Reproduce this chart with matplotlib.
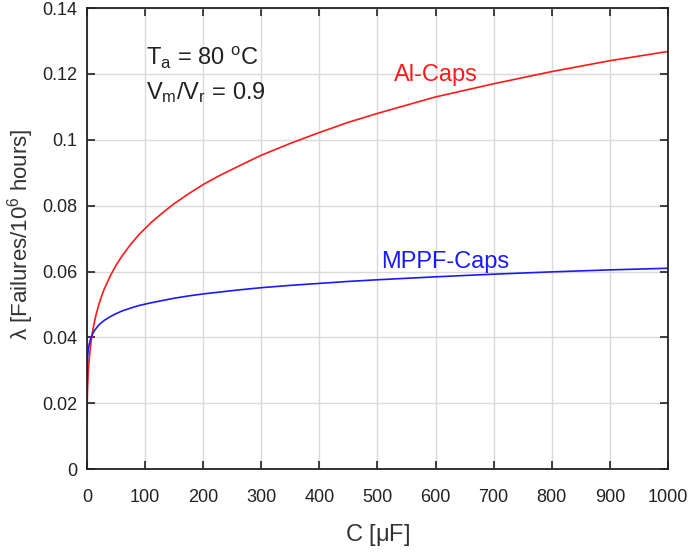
import matplotlib
matplotlib.use('Agg')
import matplotlib.pyplot as plt

plt.rcParams['font.family'] = ['Liberation Sans', 'DejaVu Sans']
plt.rcParams['mathtext.fontset'] = 'custom'
plt.rcParams['mathtext.rm'] = 'Liberation Sans'
plt.rcParams['mathtext.it'] = 'Liberation Sans'

# capacitance [uF], values
cap = [0.15, 0.3, 0.5, 1, 2, 3, 5, 7, 10, 13, 16, 20, 25, 30, 40, 50, 60, 75,
       90, 110, 130, 150, 175, 200, 230, 260, 300, 350, 400, 450, 500, 600,
       700, 800, 900, 1000]
lam_al = [0.0153, 0.0181, 0.0205, 0.0242, 0.0286, 0.0315, 0.0356, 0.0386,
          0.0421, 0.0448, 0.0471, 0.0497, 0.0524, 0.0548, 0.0586, 0.0619,
          0.0646, 0.0682, 0.0713, 0.0748, 0.0778, 0.0806, 0.0836, 0.0864,
          0.0893, 0.0919, 0.0953, 0.0989, 0.1022, 0.1053, 0.108, 0.113,
          0.117, 0.1207, 0.124, 0.1268]
lam_mppf = [0.0285, 0.0305, 0.0319, 0.0338, 0.0359, 0.0371, 0.0388, 0.0399,
            0.0412, 0.0421, 0.0428, 0.0437, 0.0445, 0.0452, 0.0463, 0.0472,
            0.048, 0.0489, 0.0497, 0.0505, 0.0512, 0.0519, 0.0526, 0.0532,
            0.0538, 0.0544, 0.0551, 0.0558, 0.0564, 0.057, 0.0575, 0.0584,
            0.0592, 0.0599, 0.0605, 0.061]

x_ticks = [0, 100, 200, 300, 400, 500, 600, 700, 800, 900, 1000]
y_ticks = [0, 0.02, 0.04, 0.06, 0.08, 0.1, 0.12, 0.14]
y_labels = ['0', '0.02', '0.04', '0.06', '0.08', '0.1', '0.12', '0.14']

fig = plt.figure(figsize=(6.9, 5.52), dpi=100)
ax = fig.add_axes([0.126, 0.150, 0.842, 0.8355])

ax.plot(cap, lam_al, color='#ff1a1a', linewidth=1.2)
ax.plot(cap, lam_mppf, color='#1a1aff', linewidth=1.2)

ax.set_xlim(0, 1000)
ax.set_ylim(0, 0.14)
ax.set_xticks(x_ticks)
ax.set_yticks(y_ticks)
ax.set_yticklabels(y_labels)
ax.grid(True, color='#dadada', linewidth=1)
ax.set_axisbelow(True)
ax.tick_params(direction='in', length=6, width=1.2, top=True, right=True,
               labelsize=13, colors='#222222')
ax.tick_params(axis='x', pad=14)
ax.tick_params(axis='y', pad=7)
for s in ax.spines.values():
    s.set_linewidth(1.3)
    s.set_color('#222222')

ax.set_xlabel(r'C [$\mu$F]', fontsize=17, color='#333333', labelpad=12)
ax.set_ylabel(r'$\lambda$ [Failures/10$^6$ hours]', fontsize=16, color='#333333')
ax.yaxis.set_label_coords(-0.088, 0.51)

ax.text(0.102, 0.891, r'T$_\mathrm{a}$ = 80 $^\mathrm{o}$C', transform=ax.transAxes,
        fontsize=17, color='#222222', va='center')
ax.text(0.102, 0.816, r'V$_\mathrm{m}$/V$_\mathrm{r}$ = 0.9', transform=ax.transAxes,
        fontsize=17, color='#222222', va='center')
ax.text(0.528, 0.855, 'Al-Caps', transform=ax.transAxes, fontsize=17,
        color='#ff1a1a', va='center')
ax.text(0.506, 0.450, 'MPPF-Caps', transform=ax.transAxes, fontsize=17,
        color='#1a1aff', va='center')

fig.savefig('out.png', dpi=100)
